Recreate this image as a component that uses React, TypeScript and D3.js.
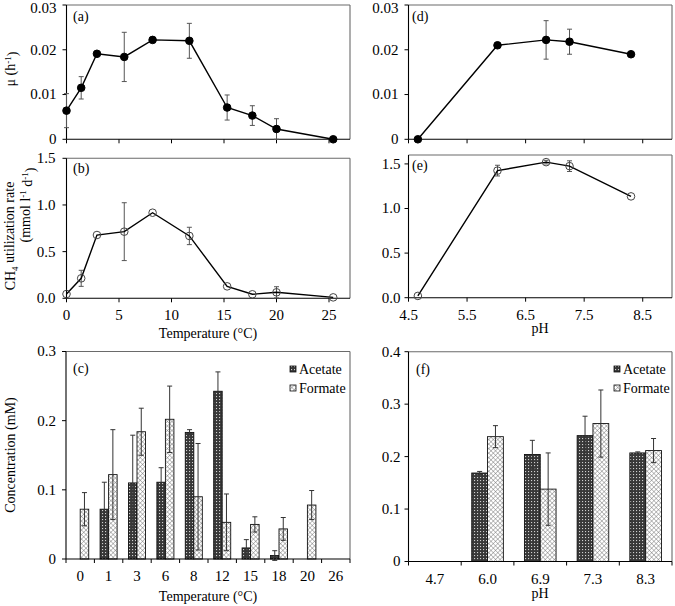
import React from 'react';
import * as d3 from 'd3';

const FONT = "'Liberation Serif', 'Times New Roman', 'DejaVu Serif', serif";

// ---- data: temperature series (panels a, b) ----
const tempX = [0, 1.4, 2.9, 5.5, 8.2, 11.7, 15.3, 17.7, 20.0, 25.4];
const muTemp = [0.0064, 0.0115, 0.0191, 0.0184, 0.0222, 0.022, 0.0071, 0.0053, 0.0023, 0];
const muTempErr = [0.0038, 0.0025, 0, 0.0055, 0, 0.0039, 0.0028, 0.0022, 0.0023, 0];
const ch4Temp = [0.046, 0.214, 0.678, 0.714, 0.917, 0.668, 0.128, 0.043, 0.064, 0.01];
const ch4TempErr = [0, 0.086, 0, 0.31, 0, 0.093, 0, 0, 0.06, 0];

// ---- data: temperature bars (panel c) ----
const catsTemp = ['0', '1', '3', '6', '8', '12', '15', '18', '20', '26'];
const acetTemp = [null, 0.072, 0.11, 0.111, 0.183, 0.2425, 0.016, 0.005, null, null];
const acetTempErr = [null, 0.039, 0.069, 0.021, 0.004, 0.028, 0.012, 0.007, null, null];
const formTemp = [0.072, 0.122, 0.184, 0.202, 0.09, 0.053, 0.05, 0.0435, 0.078, null];
const formTempErr = [0.024, 0.065, 0.034, 0.048, 0.077, 0.041, 0.011, 0.0165, 0.021, null];

// ---- data: pH series (panels d, e) ----
const phX = [4.66, 6.02, 6.85, 7.25, 8.3];
const muPH = [0, 0.021, 0.0222, 0.0218, 0.019];
const muPHErr = [0, 0.0006, 0.0043, 0.0028, 0];
const ch4PH = [0.02, 1.425, 1.52, 1.475, 1.136];
const ch4PHErr = [0, 0.06, 0.02, 0.06, 0];

// ---- data: pH bars (panel f) ----
const catsPH = ['4.7', '6.0', '6.9', '7.3', '8.3'];
const acetPH = [null, 0.1687, 0.204, 0.24, 0.207];
const acetPHErr = [null, 0.003, 0.027, 0.037, 0.002];
const formPH = [null, 0.238, 0.138, 0.263, 0.2115];
const formPHErr = [null, 0.021, 0.069, 0.064, 0.023];

// ---- tick labels ----
const tempTicks = [0, 5, 10, 15, 20, 25];
const phTicks = [4.5, 5.5, 6.5, 7.5, 8.5];
const muTicks = [0, 0.01, 0.02, 0.03];
const ch4Ticks = [0, 0.5, 1.0, 1.5];
const concTicksC = [0, 0.1, 0.2, 0.3];
const concTicksF = [0, 0.1, 0.2, 0.3, 0.4];
const seriesNames = ['Acetate', 'Formate'];

type Box = { x0: number; x1: number; y0: number; y1: number };

function Frame({ b }: { b: Box }) {
  return (
    <g>
      <line x1={b.x0} x2={b.x1} y1={b.y0} y2={b.y0} stroke="#6a6a6a" strokeWidth={1.1} />
      <line x1={b.x1} x2={b.x1} y1={b.y0} y2={b.y1} stroke="#6a6a6a" strokeWidth={1.1} />
      <line x1={b.x0} x2={b.x0} y1={b.y0} y2={b.y1} stroke="#000" strokeWidth={1.1} />
      <line x1={b.x0} x2={b.x1} y1={b.y1} y2={b.y1} stroke="#000" strokeWidth={1.1} />
    </g>
  );
}

function YAxis({ b, y, ticks, fmt, gap }: { b: Box; y: any; ticks: number[]; fmt: (v: number) => string; gap: number }) {
  return (
    <g>
      {ticks.map((t) => (
        <g key={t}>
          <line x1={b.x0 - 4} x2={b.x0} y1={y(t)} y2={y(t)} stroke="#000" />
          <text x={b.x0 - gap} y={Math.max(y(t), 8.5)} dy="0.33em" textAnchor="end" fontSize={15}>
            {fmt(t)}
          </text>
        </g>
      ))}
    </g>
  );
}

function ErrBar({ x, lo, hi, color }: { x: number; lo: number; hi: number; color: string }) {
  return (
    <g stroke={color} strokeWidth={1}>
      <line x1={x} x2={x} y1={lo} y2={hi} />
      <line x1={x - 2.5} x2={x + 2.5} y1={lo} y2={lo} />
      <line x1={x - 2.5} x2={x + 2.5} y1={hi} y2={hi} />
    </g>
  );
}

function LinePanel(props: {
  b: Box; xDom: [number, number]; xTicks: number[]; yDom: [number, number]; yTicks: number[];
  yFmt: (v: number) => string; xs: number[]; ys: number[]; errs: number[]; filled: boolean;
  label: string; labelPos: [number, number]; showX: boolean; xFmt: (v: number) => string; yGap: number;
}) {
  const { b } = props;
  const x = d3.scaleLinear().domain(props.xDom).range([b.x0, b.x1]);
  const y = d3.scaleLinear().domain(props.yDom).range([b.y1, b.y0]);
  const pts = props.xs.map((v, i) => [x(v), y(props.ys[i])] as [number, number]);
  const path = d3.line()(pts) || '';
  return (
    <g>
      <Frame b={b} />
      <YAxis b={b} y={y} ticks={props.yTicks} fmt={props.yFmt} gap={props.yGap} />
      {props.xTicks.map((t) => (
        <g key={t}>
          <line x1={x(t)} x2={x(t)} y1={b.y1} y2={b.y1 + 4} stroke="#000" />
          {props.showX && (
            <text x={x(t)} y={b.y1 + 22} textAnchor="middle" fontSize={15}>
              {props.xFmt(t)}
            </text>
          )}
        </g>
      ))}
      {props.errs.map((e, i) =>
        e > 0 ? (
          <ErrBar key={i} x={x(props.xs[i])} lo={y(props.ys[i] - e)} hi={y(props.ys[i] + e)} color="#555" />
        ) : null
      )}
      <path d={path} fill="none" stroke="#000" strokeWidth={1.4} />
      {pts.map((p, i) => (
        <circle
          key={i}
          cx={p[0]}
          cy={p[1]}
          r={3.8}
          fill={props.filled ? '#000' : 'none'}
          stroke={props.filled ? '#000' : '#444'}
          strokeWidth={1}
        />
      ))}
      <text x={props.labelPos[0]} y={props.labelPos[1]} fontSize={14}>
        {props.label}
      </text>
    </g>
  );
}

function BarPanel(props: {
  b: Box; cats: string[]; yDom: [number, number]; yTicks: number[]; yFmt: (v: number) => string;
  a: (number | null)[]; aErr: (number | null)[]; f: (number | null)[]; fErr: (number | null)[];
  label: string; labelPos: [number, number]; legendX: number; yGap: number;
}) {
  const { b } = props;
  const x = d3.scaleBand<string>().domain(props.cats).range([b.x0, b.x1]).padding(0);
  const y = d3.scaleLinear().domain(props.yDom).range([b.y1, b.y0]);
  const bw = x.bandwidth();
  const pairW = bw * 0.6;
  const sub = d3.scaleBand<string>().domain(seriesNames).range([(bw - pairW) / 2, (bw + pairW) / 2]);
  const boundaries = props.cats.map((c) => x(c) as number).concat([b.x1]);
  const series = [
    { name: 'Acetate', vals: props.a, errs: props.aErr, fill: 'url(#pAcet)' },
    { name: 'Formate', vals: props.f, errs: props.fErr, fill: 'url(#pForm)' },
  ];
  return (
    <g>
      {series.map((s) =>
        s.vals.map((v, i) =>
          v == null ? null : (
            <rect
              key={s.name + i}
              x={(x(props.cats[i]) as number) + (sub(s.name) as number)}
              y={y(v)}
              width={sub.bandwidth()}
              height={y(0) - y(v)}
              fill={s.fill}
              stroke="#111"
              strokeWidth={0.9}
            />
          )
        )
      )}
      {series.map((s) =>
        s.vals.map((v, i) => {
          const e = s.errs[i];
          if (v == null || e == null || e <= 0) return null;
          const cx = (x(props.cats[i]) as number) + (sub(s.name) as number) + sub.bandwidth() / 2;
          return <ErrBar key={'e' + s.name + i} x={cx} lo={y(v - e)} hi={y(v + e)} color="#333" />;
        })
      )}
      <Frame b={b} />
      <YAxis b={b} y={y} ticks={props.yTicks} fmt={props.yFmt} gap={props.yGap} />
      {boundaries.map((bx, i) => (
        <line key={i} x1={bx} x2={bx} y1={b.y1} y2={b.y1 + 4} stroke="#000" />
      ))}
      {props.cats.map((c) => (
        <text key={c} x={(x(c) as number) + bw / 2} y={b.y1 + 22} textAnchor="middle" fontSize={15}>
          {c}
        </text>
      ))}
      <text x={props.labelPos[0]} y={props.labelPos[1]} fontSize={14}>
        {props.label}
      </text>
      {series.map((s, i) => (
        <g key={'lg' + s.name}>
          <rect x={props.legendX} y={366 + i * 19} width={6} height={6} fill={s.fill} stroke="#111" strokeWidth={0.8} />
          <text x={props.legendX + 9} y={373.5 + i * 19} fontSize={14}>
            {s.name}
          </text>
        </g>
      ))}
    </g>
  );
}

const fmtMu = (v: number) => (v === 0 ? '0' : String(v));
const fmt1 = (v: number) => d3.format('.1f')(v);
const fmtC = (v: number) => (v === 0 ? '0' : d3.format('.1f')(v));

export default function App() {
  const bA: Box = { x0: 66.5, x1: 350, y0: 5, y1: 139.3 };
  const bB: Box = { x0: 66.5, x1: 350, y0: 158.3, y1: 298.3 };
  const bC: Box = { x0: 66, x1: 350, y0: 351.5, y1: 559 };
  const bD: Box = { x0: 408.5, x1: 672, y0: 5, y1: 139.3 };
  const bE: Box = { x0: 408.5, x1: 672, y0: 155, y1: 297.7 };
  const bF: Box = { x0: 408.5, x1: 672, y0: 351.7, y1: 561.5 };
  return (
    <svg width={675} height={606} style={{ position: 'absolute', left: 0, top: 0, background: '#fff', fontFamily: FONT }}>
      <defs>
        <pattern id="pAcet" width={3} height={3} patternUnits="userSpaceOnUse">
          <rect width={3} height={3} fill="#383838" />
          <rect x={0} y={0} width={1.1} height={1.1} fill="#cfcfcf" />
        </pattern>
        <pattern id="pForm" width={3.2} height={3.2} patternUnits="userSpaceOnUse" patternTransform="rotate(45)">
          <rect width={3.2} height={3.2} fill="#fff" />
          <line x1={0} y1={0} x2={3.2} y2={0} stroke="#6a6a6a" strokeWidth={0.8} />
          <line x1={0} y1={0} x2={0} y2={3.2} stroke="#6a6a6a" strokeWidth={0.8} />
        </pattern>
      </defs>
      <rect width={675} height={606} fill="#fff" />

      <LinePanel b={bA} xDom={[0, 27]} xTicks={tempTicks} yDom={[0, 0.03]} yTicks={muTicks} yFmt={fmtMu}
        xs={tempX} ys={muTemp} errs={muTempErr} filled={true} label="(a)" labelPos={[73, 21]}
        showX={false} xFmt={String} yGap={10} />
      <LinePanel b={bB} xDom={[0, 27]} xTicks={tempTicks} yDom={[0, 1.5]} yTicks={ch4Ticks} yFmt={fmt1}
        xs={tempX} ys={ch4Temp} errs={ch4TempErr} filled={false} label="(b)" labelPos={[73, 173]}
        showX={true} xFmt={String} yGap={11} />
      <BarPanel b={bC} cats={catsTemp} yDom={[0, 0.3]} yTicks={concTicksC} yFmt={fmtC}
        a={acetTemp} aErr={acetTempErr} f={formTemp} fErr={formTempErr} label="(c)" labelPos={[73, 373]}
        legendX={290} yGap={10} />
      <LinePanel b={bD} xDom={[4.5, 9]} xTicks={phTicks} yDom={[0, 0.03]} yTicks={muTicks} yFmt={fmtMu}
        xs={phX} ys={muPH} errs={muPHErr} filled={true} label="(d)" labelPos={[412, 21]}
        showX={false} xFmt={fmt1} yGap={10} />
      <LinePanel b={bE} xDom={[4.5, 9]} xTicks={phTicks} yDom={[0, 1.6]} yTicks={ch4Ticks} yFmt={fmt1}
        xs={phX} ys={ch4PH} errs={ch4PHErr} filled={false} label="(e)" labelPos={[412, 170]}
        showX={true} xFmt={fmt1} yGap={8} />
      <BarPanel b={bF} cats={catsPH} yDom={[0, 0.4]} yTicks={concTicksF} yFmt={fmtC}
        a={acetPH} aErr={acetPHErr} f={formPH} fErr={formPHErr} label="(f)" labelPos={[416, 374]}
        legendX={614} yGap={8} />

      {/* axis titles */}
      <text x={208} y={338} textAnchor="middle" fontSize={14}>Temperature (°C)</text>
      <text x={208} y={601} textAnchor="middle" fontSize={14}>Temperature (°C)</text>
      <text x={540} y={333} textAnchor="middle" fontSize={14}>pH</text>
      <text x={540} y={598} textAnchor="middle" fontSize={14}>pH</text>

      <text transform="translate(15,69) rotate(-90)" textAnchor="middle" fontSize={14}>
        μ (h<tspan dy="-0.45em" fontSize={9}>-1</tspan><tspan dy="0.45em">)</tspan>
      </text>
      <text transform="translate(15,236) rotate(-90)" textAnchor="middle" fontSize={14}>
        CH<tspan dy="0.3em" fontSize={9}>4</tspan><tspan dy="-0.3em"> utilization rate</tspan>
      </text>
      <text transform="translate(30,205) rotate(-90)" textAnchor="middle" fontSize={14}>
        (mmol l<tspan dy="-0.45em" fontSize={9}>-1</tspan><tspan dy="0.45em"> d</tspan>
        <tspan dy="-0.45em" fontSize={9}>-1</tspan><tspan dy="0.45em">)</tspan>
      </text>
      <text transform="translate(15,455) rotate(-90)" textAnchor="middle" fontSize={14}>
        Concentration (mM)
      </text>
    </svg>
  );
}
